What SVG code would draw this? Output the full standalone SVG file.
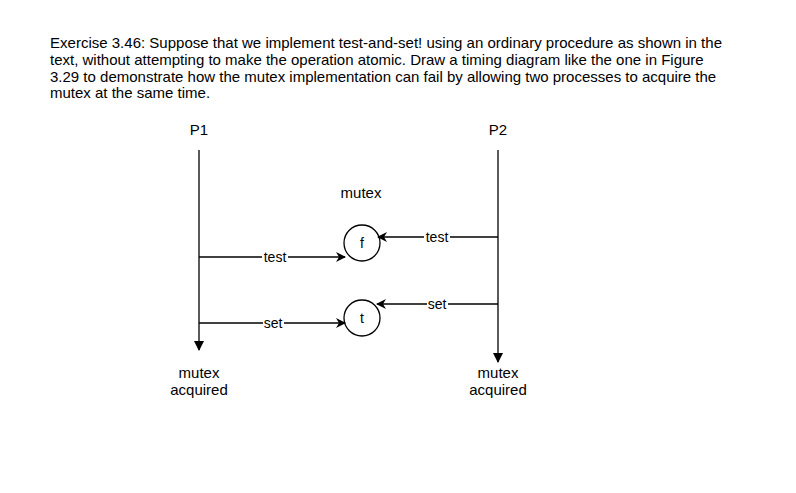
<svg xmlns="http://www.w3.org/2000/svg" width="796" height="493" viewBox="0 0 796 493">
<style>
text{font-family:"Liberation Sans",Arial,sans-serif;font-size:15px;fill:#000}
.c{text-anchor:middle}
.s{font-size:14px}
.ln{stroke:#000;stroke-width:1.3;fill:none}
.lbl{fill:#fff}
</style>
<defs>
<marker id="ah" viewBox="0 0 10 10" refX="9" refY="5" markerWidth="10" markerHeight="10" markerUnits="userSpaceOnUse" orient="auto">
<path d="M0,0 L10,5 L0,10 L3,5 Z" fill="#000"/>
</marker>
<marker id="ad" viewBox="0 0 10 10" refX="9" refY="5" markerWidth="10" markerHeight="10" markerUnits="userSpaceOnUse" orient="auto">
<path d="M0,0 L10,5 L0,10 Z" fill="#000"/>
</marker>
</defs>
<rect width="796" height="493" fill="#fff"/>
<g id="title">
<text x="50" y="48" textLength="672" lengthAdjust="spacingAndGlyphs">Exercise 3.46: Suppose that we implement test-and-set! using an ordinary procedure as shown in the</text>
<text x="50" y="65">text, without attempting to make the operation atomic. Draw a timing diagram like the one in Figure</text>
<text x="50" y="82">3.29 to demonstrate how the mutex implementation can fail by allowing two processes to acquire the</text>
<text x="50" y="98">mutex at the same time.</text>
</g>
<g id="P1">
<text class="c" x="199" y="135">P1</text>
<line class="ln" x1="199" y1="150" x2="199" y2="350" marker-end="url(#ad)"/>
<text class="c" x="199" y="378">mutex</text>
<text class="c" x="199" y="395">acquired</text>
</g>
<g id="P2">
<text class="c" x="498" y="135">P2</text>
<line class="ln" x1="498" y1="150" x2="498" y2="362" marker-end="url(#ad)"/>
<text class="c" x="498" y="378">mutex</text>
<text class="c" x="498" y="395">acquired</text>
</g>
<g id="mutex">
<text class="c" x="361" y="198">mutex</text>
</g>
<g id="f">
<circle class="ln" cx="362" cy="243" r="18" fill="#fff"/>
<text class="c s" x="362" y="248">f</text>
</g>
<g id="t">
<circle class="ln" cx="362" cy="318" r="18" fill="#fff"/>
<text class="c s" x="362" y="323">t</text>
</g>
<g id="connectors">
<line class="ln" x1="199" y1="257" x2="345" y2="257" marker-end="url(#ah)"/>
<rect class="lbl" x="262" y="250" width="26" height="14"/>
<text class="c s" x="275" y="262">test</text>
<line class="ln" x1="498" y1="237" x2="378" y2="237" marker-end="url(#ah)"/>
<rect class="lbl" x="424" y="230" width="26" height="14"/>
<text class="c s" x="437" y="242">test</text>
<line class="ln" x1="498" y1="304" x2="377" y2="304" marker-end="url(#ah)"/>
<rect class="lbl" x="427" y="297" width="21" height="14"/>
<text class="c s" x="437" y="309">set</text>
<line class="ln" x1="199" y1="323" x2="345" y2="323" marker-end="url(#ah)"/>
<rect class="lbl" x="263" y="316" width="21" height="14"/>
<text class="c s" x="273" y="328">set</text>
</g>
</svg>
